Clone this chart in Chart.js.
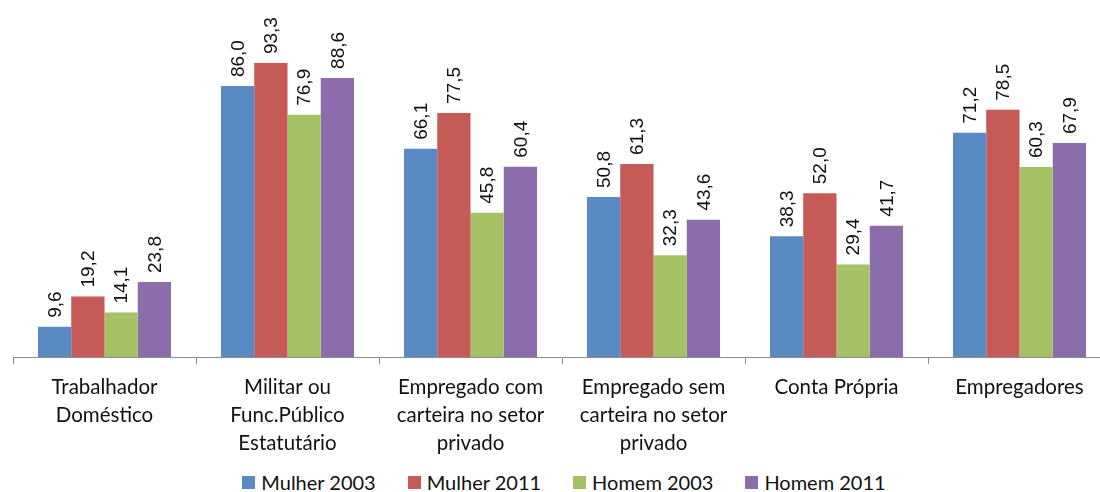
<!DOCTYPE html>
<html>
<head>
<meta charset="utf-8">
<script src="https://cdn.jsdelivr.net/npm/chart.js@4.4.0/dist/chart.umd.min.js"></script>
<style>
  html, body { margin: 0; padding: 0; background: #fff; overflow: hidden; }
  body { position: relative; width: 1100px; height: 492px; }
  #wrap { position: absolute; left: 0; top: 0; width: 1115px; height: 462px; }
  #legenda {
    position: absolute; left: 0; top: 470px; width: 1128px; height: 24px;
    display: flex; justify-content: center; align-items: center;
    font-family: Lato, 'Open Sans', sans-serif; font-size: 20px; color: #111;
  }
  #legenda .voce { display: flex; align-items: center; margin: 0 16px; }
  #legenda .box { width: 13px; height: 13px; margin-right: 6px; }
</style>
</head>
<body>
<div id="wrap"><canvas id="grafico"></canvas></div>
<div id="legenda"></div>
<script>
const categorias = [
  ["Trabalhador", "Doméstico"],
  ["Militar ou", "Func.Público", "Estatutário"],
  ["Empregado com", "carteira no setor", "privado"],
  ["Empregado sem", "carteira no setor", "privado"],
  ["Conta Própria"],
  ["Empregadores"]
];
const serie = ["Mulher 2003", "Mulher 2011", "Homem 2003", "Homem 2011"];
const mulher2003 = [9.6, 86.0, 66.1, 50.8, 38.3, 71.2];
const mulher2011 = [19.2, 93.3, 77.5, 61.3, 52.0, 78.5];
const homem2003 = [14.1, 76.9, 45.8, 32.3, 29.4, 60.3];
const homem2011 = [23.8, 88.6, 60.4, 43.6, 41.7, 67.9];
const colori = ["#5A8AC4", "#C55A57", "#A4C263", "#8A6DAA"];

const fonteTexto = "Lato, 'Open Sans', sans-serif";

// etichette verticali sopra le barre
const etichette = {
  id: "etichette",
  afterDatasetsDraw(chart) {
    const ctx = chart.ctx;
    ctx.save();
    ctx.fillStyle = "#111";
    ctx.font = "19px 'Liberation Sans', Arial, sans-serif";
    ctx.textAlign = "left";
    ctx.textBaseline = "middle";
    chart.data.datasets.forEach(function(ds, i) {
      chart.getDatasetMeta(i).data.forEach(function(bar, j) {
        const testo = ds.data[j].toFixed(1).replace(".", ",");
        ctx.save();
        ctx.translate(bar.x + 1, bar.y - 9);
        ctx.rotate(-Math.PI / 2);
        ctx.fillText(testo, 0, 0);
        ctx.restore();
      });
    });
    ctx.restore();
  }
};

const valori = [mulher2003, mulher2011, homem2003, homem2011];
const datasets = serie.map(function(nome, i) {
  return { label: nome, data: valori[i], backgroundColor: colori[i] };
});

const ctx = document.getElementById("grafico").getContext("2d");
const grafico = new Chart(ctx, {
  type: "bar",
  data: { labels: categorias, datasets: datasets },
  options: {
    responsive: true,
    maintainAspectRatio: false,
    animation: false,
    layout: { padding: { top: 42, left: 13, right: 4, bottom: 0 } },
    datasets: {
      bar: { barPercentage: 1.0, categoryPercentage: 0.727, borderWidth: 0 }
    },
    scales: {
      x: {
        afterFit: function(s) { s.height = 105; },
        grid: {
          display: true,
          drawOnChartArea: false,
          drawTicks: true,
          tickLength: 7,
          color: "#8c8c8c",
          offset: true
        },
        border: { display: true, color: "#8c8c8c", width: 1 },
        ticks: {
          color: "#111",
          font: { family: fonteTexto, size: 20.5, lineHeight: 1.37 },
          maxRotation: 0,
          autoSkip: false,
          padding: 9
        }
      },
      y: {
        display: false,
        min: 0,
        max: 100
      }
    },
    plugins: {
      legend: { display: false },
      tooltip: { enabled: false }
    }
  },
  plugins: [etichette]
});

// legenda in html, dai dataset del grafico
var legenda = document.getElementById("legenda");
grafico.data.datasets.forEach(function(ds) {
  var voce = document.createElement("div");
  voce.className = "voce";
  var box = document.createElement("span");
  box.className = "box";
  box.style.background = ds.backgroundColor;
  var testo = document.createElement("span");
  testo.textContent = ds.label;
  voce.appendChild(box);
  voce.appendChild(testo);
  legenda.appendChild(voce);
});
</script>
</body>
</html>
